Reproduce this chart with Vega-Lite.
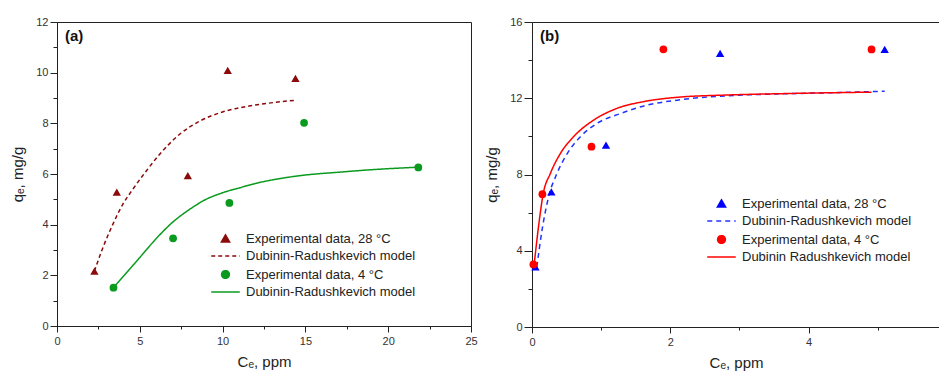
{
  "$schema": "https://vega.github.io/schema/vega-lite/v6.json",
  "background": "white",
  "padding": {"left": 10, "top": 15, "right": 0, "bottom": 5},
  "spacing": 6,
  "config": {
    "font": "Liberation Sans",
    "view": {"stroke": "#222", "strokeWidth": 1},
    "axis": {"grid": false, "domainColor": "#222", "tickColor": "#222", "labelColor": "#333", "labelFontSize": 11, "titleFontSize": 15, "titleFontWeight": "normal", "titleColor": "#222", "labelFlush": false, "labelPadding": 2, "titlePadding": 10},
    "legend": {"labelFontSize": 13, "labelColor": "#222", "labelOffset": 14, "rowPadding": 3.5, "symbolStrokeWidth": 1.5, "labelLimit": 400},
    "title": {"fontSize": 15, "fontWeight": "bold", "anchor": "start", "color": "#111", "frame": "group"}
  },
  "resolve": {"scale": {"color": "independent", "shape": "independent", "strokeDash": "independent", "size": "independent"}, "legend": {"color": "independent", "shape": "independent", "strokeDash": "independent", "size": "independent"}},
  "hconcat": [
    {
      "width": 414,
      "height": 304,
      "title": {"text": "(a)", "offset": -28, "dx": 8},
      "data": {"values": [
        {"series": "e28", "c": 2.26, "q": 2.17},
        {"series": "e28", "c": 3.61, "q": 5.28},
        {"series": "e28", "c": 7.9, "q": 5.94},
        {"series": "e28", "c": 10.31, "q": 10.09},
        {"series": "e28", "c": 14.4, "q": 9.77},
        {"series": "m28", "c": 2.26, "q": 2.17},
        {"series": "m28", "c": 2.77, "q": 3.09},
        {"series": "m28", "c": 3.37, "q": 4.01},
        {"series": "m28", "c": 3.97, "q": 4.8},
        {"series": "m28", "c": 4.57, "q": 5.39},
        {"series": "m28", "c": 5.38, "q": 6.11},
        {"series": "m28", "c": 6.19, "q": 6.77},
        {"series": "m28", "c": 7.39, "q": 7.56},
        {"series": "m28", "c": 8.6, "q": 8.08},
        {"series": "m28", "c": 10.0, "q": 8.45},
        {"series": "m28", "c": 11.6, "q": 8.68},
        {"series": "m28", "c": 13.2, "q": 8.83},
        {"series": "m28", "c": 14.4, "q": 8.91},
        {"series": "e4", "c": 3.41, "q": 1.51},
        {"series": "e4", "c": 7.01, "q": 3.46},
        {"series": "e4", "c": 10.41, "q": 4.86},
        {"series": "e4", "c": 14.92, "q": 8.02},
        {"series": "e4", "c": 21.82, "q": 6.26},
        {"series": "m4", "c": 3.4, "q": 1.51},
        {"series": "m4", "c": 4.98, "q": 2.69},
        {"series": "m4", "c": 5.99, "q": 3.45},
        {"series": "m4", "c": 6.99, "q": 4.1},
        {"series": "m4", "c": 8.0, "q": 4.6},
        {"series": "m4", "c": 9.0, "q": 5.0},
        {"series": "m4", "c": 10.0, "q": 5.26},
        {"series": "m4", "c": 11.0, "q": 5.45},
        {"series": "m4", "c": 12.0, "q": 5.63},
        {"series": "m4", "c": 13.2, "q": 5.79},
        {"series": "m4", "c": 15.0, "q": 5.96},
        {"series": "m4", "c": 17.0, "q": 6.07},
        {"series": "m4", "c": 19.0, "q": 6.17},
        {"series": "m4", "c": 21.82, "q": 6.27}
      ]},
      "encoding": {
        "x": {"field": "c", "type": "quantitative", "scale": {"domain": [0, 25], "nice": false},
          "axis": {"title": "Cₑ, ppm", "values": [0, 2.5, 5, 7.5, 10, 12.5, 15, 17.5, 20, 22.5, 25],
            "labelExpr": "datum.value % 5 == 0 ? datum.label : ''",
            "tickSize": {"condition": {"test": "datum.value % 5 == 0", "value": 6}, "value": 3}, "labelPadding": 3, "titlePadding": 8}},
        "y": {"field": "q", "type": "quantitative", "scale": {"domain": [0, 12], "nice": false},
          "axis": {"title": "qₑ, mg/g", "values": [0, 1, 2, 3, 4, 5, 6, 7, 8, 9, 10, 11, 12],
            "labelExpr": "datum.value % 2 == 0 ? datum.label : ''",
            "tickSize": {"condition": {"test": "datum.value % 2 == 0", "value": 7}, "value": 4}}}
      },
      "layer": [
        {
          "transform": [{"filter": "datum.series == 'm28' || datum.series == 'm4'"}],
          "mark": {"type": "line", "interpolate": "monotone", "strokeWidth": 1.5},
          "encoding": {
            "color": {"field": "series", "type": "nominal", "scale": {"domain": ["e28", "m28", "e4", "m4"], "range": ["#8b0a0a", "#8b0a0a", "#0a9a1e", "#0a9a1e"]},
              "legend": {"title": null, "orient": "none", "legendX": 162, "legendY": 210,
                "labelExpr": "{'e28': 'Experimental data, 28 °C', 'm28': 'Dubinin-Radushkevich model', 'e4': 'Experimental data, 4 °C', 'm4': 'Dubinin-Radushkevich model'}[datum.value]"}},
            "strokeDash": {"field": "series", "type": "nominal", "scale": {"domain": ["e28", "m28", "e4", "m4"], "range": [[1, 0], [4, 3], [1, 0], [1, 0]]}}
          }
        },
        {
          "transform": [{"filter": "datum.series == 'e28' || datum.series == 'e4'"}],
          "mark": {"type": "point", "filled": true, "opacity": 1},
          "encoding": {
            "color": {"field": "series", "type": "nominal"},
            "shape": {"field": "series", "type": "nominal", "scale": {"domain": ["e28", "m28", "e4", "m4"], "range": ["triangle-up", "M-2.5,0H2.5", "circle", "M-2.5,0H2.5"]}},
            "size": {"field": "series", "type": "nominal", "scale": {"type": "ordinal", "domain": ["e28", "m28", "e4", "m4"], "range": [70, 130, 60, 130]}}
          }
        }
      ]
    },
    {
      "width": 408,
      "height": 305,
      "title": {"text": "(b)", "offset": -28, "dx": 8},
      "data": {"values": [
        {"series": "e28", "c": 0.05, "q": 3.15},
        {"series": "e28", "c": 0.28, "q": 7.09},
        {"series": "e28", "c": 1.07, "q": 9.54},
        {"series": "e28", "c": 2.72, "q": 14.36},
        {"series": "e28", "c": 5.1, "q": 14.57},
        {"series": "m28", "c": 0.07, "q": 3.15},
        {"series": "m28", "c": 0.145, "q": 5.08},
        {"series": "m28", "c": 0.24, "q": 6.83},
        {"series": "m28", "c": 0.36, "q": 8.05},
        {"series": "m28", "c": 0.51, "q": 9.1},
        {"series": "m28", "c": 0.7, "q": 9.98},
        {"series": "m28", "c": 0.94, "q": 10.68},
        {"series": "m28", "c": 1.28, "q": 11.2},
        {"series": "m28", "c": 1.66, "q": 11.64},
        {"series": "m28", "c": 2.1, "q": 11.9},
        {"series": "m28", "c": 2.82, "q": 12.13},
        {"series": "m28", "c": 3.5, "q": 12.22},
        {"series": "m28", "c": 4.2, "q": 12.28},
        {"series": "m28", "c": 5.1, "q": 12.37},
        {"series": "e4", "c": 0.02, "q": 3.28},
        {"series": "e4", "c": 0.15, "q": 6.97},
        {"series": "e4", "c": 0.86, "q": 9.46},
        {"series": "e4", "c": 1.9, "q": 14.57},
        {"series": "e4", "c": 4.91, "q": 14.56},
        {"series": "m4", "c": 0.03, "q": 3.24},
        {"series": "m4", "c": 0.1, "q": 5.43},
        {"series": "m4", "c": 0.16, "q": 6.95},
        {"series": "m4", "c": 0.265, "q": 8.05},
        {"series": "m4", "c": 0.41, "q": 9.1},
        {"series": "m4", "c": 0.6, "q": 9.98},
        {"series": "m4", "c": 0.89, "q": 10.85},
        {"series": "m4", "c": 1.23, "q": 11.47},
        {"series": "m4", "c": 1.61, "q": 11.82},
        {"series": "m4", "c": 2.1, "q": 12.05},
        {"series": "m4", "c": 2.82, "q": 12.17},
        {"series": "m4", "c": 3.6, "q": 12.24},
        {"series": "m4", "c": 4.91, "q": 12.32}
      ]},
      "encoding": {
        "x": {"field": "c", "type": "quantitative", "scale": {"domain": [0, 5.9], "nice": false},
          "axis": {"title": "Cₑ, ppm", "values": [0, 1, 2, 3, 4, 5],
            "labelExpr": "datum.value % 2 == 0 ? datum.label : ''",
            "tickSize": {"condition": {"test": "datum.value % 2 == 0", "value": 6}, "value": 3}, "labelPadding": 3, "titlePadding": 8}},
        "y": {"field": "q", "type": "quantitative", "scale": {"domain": [0, 16], "nice": false},
          "axis": {"title": "qₑ, mg/g", "values": [0, 2, 4, 6, 8, 10, 12, 14, 16],
            "labelExpr": "datum.value % 4 == 0 ? datum.label : ''",
            "tickSize": {"condition": {"test": "datum.value % 4 == 0", "value": 8}, "value": 4}}}
      },
      "layer": [
        {
          "transform": [{"filter": "datum.series == 'm28' || datum.series == 'm4'"}],
          "mark": {"type": "line", "interpolate": "monotone", "strokeWidth": 1.5},
          "encoding": {
            "color": {"field": "series", "type": "nominal", "scale": {"domain": ["e28", "m28", "e4", "m4"], "range": ["#0000ff", "#2233ff", "#ff0000", "#ff0000"]},
              "legend": {"title": null, "orient": "none", "legendX": 183, "legendY": 175,
                "labelExpr": "{'e28': 'Experimental data, 28 °C', 'm28': 'Dubinin-Radushkevich model', 'e4': 'Experimental data, 4 °C', 'm4': 'Dubinin Radushkevich model'}[datum.value]"}},
            "strokeDash": {"field": "series", "type": "nominal", "scale": {"domain": ["e28", "m28", "e4", "m4"], "range": [[1, 0], [5, 4], [1, 0], [1, 0]]}}
          }
        },
        {
          "transform": [{"filter": "datum.series == 'e28' || datum.series == 'e4'"}],
          "mark": {"type": "point", "filled": true, "opacity": 1},
          "encoding": {
            "color": {"field": "series", "type": "nominal"},
            "shape": {"field": "series", "type": "nominal", "scale": {"domain": ["e28", "m28", "e4", "m4"], "range": ["triangle-up", "M-2.5,0H2.5", "circle", "M-2.5,0H2.5"]}},
            "size": {"field": "series", "type": "nominal", "scale": {"type": "ordinal", "domain": ["e28", "m28", "e4", "m4"], "range": [70, 130, 60, 130]}}
          }
        }
      ]
    }
  ]
}
